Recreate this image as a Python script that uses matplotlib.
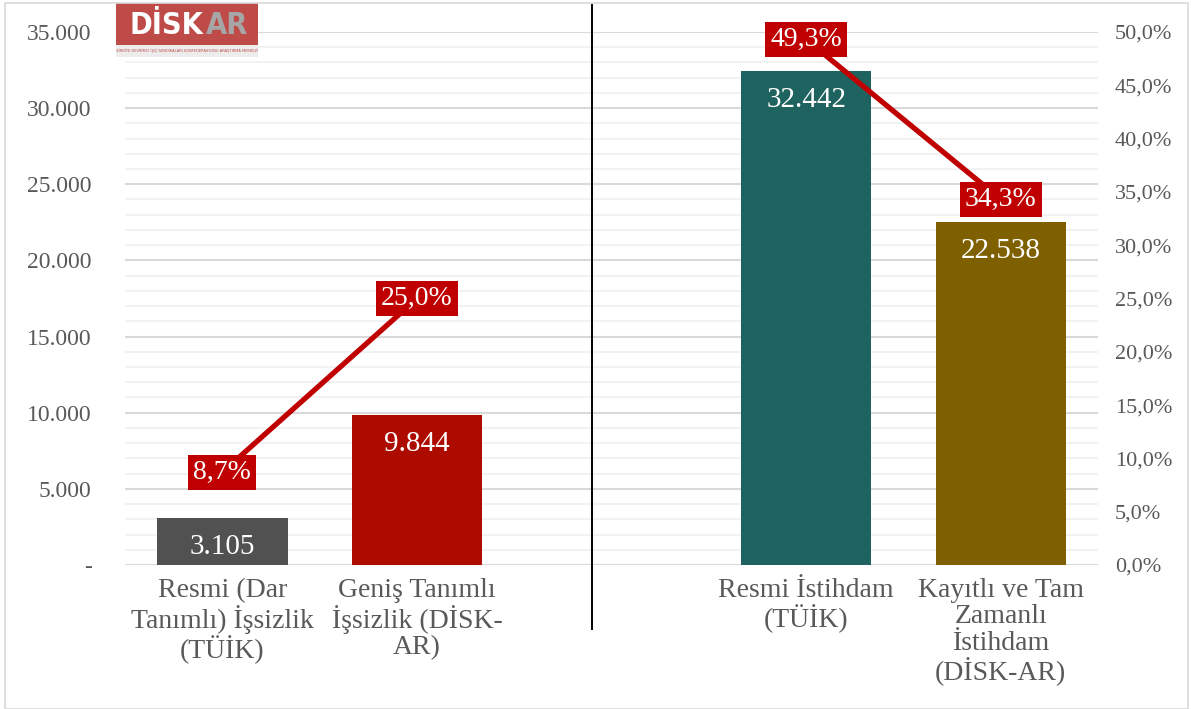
import numpy as np
import matplotlib.pyplot as plt
from matplotlib.ticker import FuncFormatter, MultipleLocator
from matplotlib.patches import Rectangle

plt.rcParams['font.family'] = ['Liberation Serif', 'DejaVu Serif']

# data
categories = ["Resmi (Dar\nTanımlı) İşsizlik\n(TÜİK)",
              "Geniş Tanımlı\nİşsizlik (DİSK-\nAR)",
              "Resmi İstihdam\n(TÜİK)",
              "Kayıtlı ve Tam\nZamanlı\nİstihdam\n(DİSK-AR)"]
positions = [0, 1, 3, 4]
values = [3105, 9844, 32442, 22538]
rates = [8.7, 25.0, 49.3, 34.3]
bar_colors = ['#515151', '#AE0B00', '#1F6360', '#7F6000']

grey = '#595959'
red = '#C00000'

fig = plt.figure(figsize=(11.91, 7.09), dpi=100)
ax = fig.add_axes([0.105, 0.2031, 0.817, 0.7518])
ax2 = ax.twinx()

ax.bar(positions, values, width=0.67, color=bar_colors, zorder=3)
ax.set_xlim(-0.5, 4.5)
ax.set_ylim(0, 35000)
ax.yaxis.set_major_locator(MultipleLocator(5000))
ax.yaxis.set_minor_locator(MultipleLocator(1000))
ax.grid(which='minor', axis='y', color='#F2F2F2', lw=1.5, zorder=0)
ax.grid(which='major', axis='y', color='#D9D9D9', lw=1.5, zorder=1)
ax.yaxis.set_major_formatter(FuncFormatter(
    lambda v, p: '-' if v == 0 else f'{int(v):,}'.replace(',', '.')))
ax.tick_params(axis='y', which='both', length=0, pad=24, labelsize=17, labelcolor=grey)
ax.set_xticks([])
for s in ax.spines.values():
    s.set_visible(False)

for x, v, lab in zip(positions, values, categories):
    ax.text(x, v - 1900, f'{v:,}'.replace(',', '.'), ha='center', va='center',
            color='white', fontsize=21, zorder=5)
    ax.text(x, -850, lab, ha='center', va='top', color=grey, fontsize=20,
            linespacing=1.08, clip_on=False)

# percentage lines on the right axis
ax2.set_ylim(0, 50)
ax2.yaxis.set_major_locator(MultipleLocator(5))
ax2.yaxis.set_major_formatter(FuncFormatter(lambda v, p: f'{v:.1f}'.replace('.', ',') + '%'))
ax2.tick_params(axis='y', length=0, pad=12, labelsize=16, labelcolor=grey)
for s in ax2.spines.values():
    s.set_visible(False)

for i in (0, 2):
    ax2.plot(positions[i:i + 2], rates[i:i + 2], color=red, lw=3.8,
             solid_capstyle='butt', zorder=4)
for x, r in zip(positions, rates):
    ax2.text(x, r, f'{r:.1f}'.replace('.', ',') + '%', ha='center', va='center',
             color='white', fontsize=20, zorder=6,
             bbox=dict(boxstyle='square,pad=0.18', fc=red, ec='none'))

# separator line
ax.plot([1.9, 1.9], [-4200, 36800], color='black', lw=1.4, clip_on=False, zorder=6)

# logo
fig.patches.append(Rectangle((116 / 1191, 1 - 45 / 709), 142 / 1191, 42 / 709,
                             transform=fig.transFigure, fc='#BE4B48', ec='none'))
fig.patches.append(Rectangle((116 / 1191, 1 - 57 / 709), 142 / 1191, 12 / 709,
                             transform=fig.transFigure, fc='#EDEDED', ec='none'))
fig.text(203 / 1191, 1 - 25 / 709, 'DİSK', color='white', fontsize=22, fontweight='bold',
         family='DejaVu Sans', fontstretch='condensed', va='center', ha='right')
fig.text(206 / 1191, 1 - 25 / 709, 'AR', color='#A6A6A6', fontsize=22, fontweight='bold',
         family='DejaVu Sans', fontstretch='condensed', va='center', ha='left')
fig.text(187 / 1191, 1 - 51 / 709,
         'TÜRKİYE DEVRİMCİ İŞÇİ SENDİKALARI KONFEDERASYONU ARAŞTIRMA MERKEZİ',
         color='#BE4B48', fontsize=2.6, family='DejaVu Sans', ha='center', va='center')

# outer border
fig.patches.append(Rectangle((5 / 1191, 0), 1183 / 1191, 1 - 3 / 709,
                             transform=fig.transFigure, fc='none', ec='#D9D9D9', lw=1.2))

fig.savefig('out.png', dpi=100)
